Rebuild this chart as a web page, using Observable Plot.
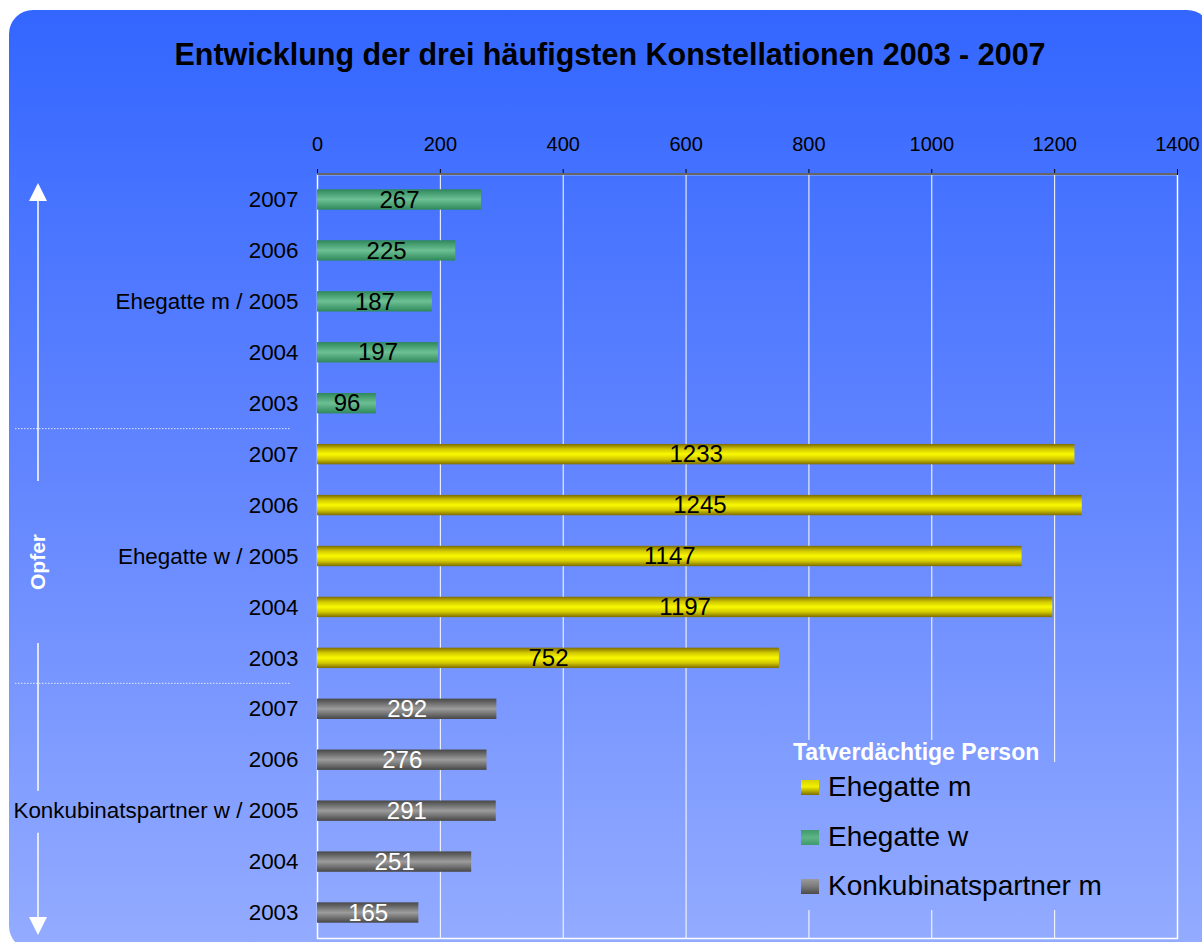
<!DOCTYPE html>
<html>
<head>
<meta charset="utf-8">
<script src="https://cdn.jsdelivr.net/npm/d3@7"></script>
<script src="https://cdn.jsdelivr.net/npm/@observablehq/plot@0.6"></script>
<style>
  html, body { margin: 0; padding: 0; background: #ffffff; }
  body { width: 1202px; height: 942px; overflow: hidden; font-family: "Liberation Sans", Arial, sans-serif; }
  #wrap { position: relative; width: 1202px; height: 942px; }
  .bgfix {
    background-image: linear-gradient(to bottom, #3366ff 0%, #6386ff 50%, #94acff 100%);
    background-attachment: fixed;
    background-size: 1202px 940px;
    background-position: 9px 10px;
    background-repeat: no-repeat;
  }
  #bg { position: absolute; left: 9px; top: 10px; width: 1202px; height: 940px; border-radius: 24px; }
  #title { position: absolute; left: 9px; top: 36px; width: 1202px; text-align: center; font-weight: bold; font-size: 30.5px; line-height: 36px; color: #000; }
  #chart { position: absolute; left: 0; top: 0; }
  #legTitle { position: absolute; left: 793px; top: 740px; font-weight: bold; font-size: 23px; line-height: 24px; color: #fff; }
  #legBox { position: absolute; left: 790px; top: 762px; width: 382px; height: 148px; }
  .legItem { position: absolute; left: 801px; height: 30px; display: flex; align-items: center; font-size: 28px; color: #000; }
  .legItem .sw { width: 18px; height: 15px; margin-right: 9px; }
</style>
</head>
<body>
<div id="wrap">
  <div id="bg" class="bgfix"></div>
  <div id="title"></div>
  <div id="chart"></div>
  <div id="legBox" class="bgfix"></div>
  <div id="legTitle" class="bgfix"></div>
  <div id="legend"></div>
</div>
<script>
// ---- data ----
const titleText = "Entwicklung der drei häufigsten Konstellationen 2003 - 2007";
const years = ["2007", "2006", "2005", "2004", "2003"];
const opferGroups = ["Ehegatte m", "Ehegatte w", "Konkubinatspartner w"];
const suspectOf = ["Ehegatte w", "Ehegatte m", "Konkubinatspartner m"];
const valuesOpferEhegatteM = [267, 225, 187, 197, 96];
const valuesOpferEhegatteW = [1233, 1245, 1147, 1197, 752];
const valuesOpferKonkubinatW = [292, 276, 291, 251, 165];
const xTicks = [0, 200, 400, 600, 800, 1000, 1200, 1400];
const legendTitle = "Tatverdächtige Person";
const legendItems = ["Ehegatte m", "Ehegatte w", "Konkubinatspartner m"];
const axisTitle = "Opfer";

// ---- styles ----
const gradIds = {"Ehegatte m": "gYellow", "Ehegatte w": "gGreen", "Konkubinatspartner m": "gGray"};
const labelColor = {"Ehegatte m": "#000", "Ehegatte w": "#000", "Konkubinatspartner m": "#fff"};
const gradStops = {
  gYellow: [[0, "#7d6c00"], [0.25, "#d2c800"], [0.5, "#fafa00"], [0.75, "#d2c800"], [1, "#7d6c00"]],
  gGreen: [[0, "#2e885a"], [0.5, "#6cc094"], [1, "#2e885a"]],
  gGray: [[0, "#474747"], [0.5, "#9c9c9c"], [1, "#474747"]]
};

const seriesValues = [valuesOpferEhegatteM, valuesOpferEhegatteW, valuesOpferKonkubinatW];
const rows = opferGroups.flatMap((o, i) => years.map((yr, j) => ({
  key: o + "|" + yr, opfer: o, year: yr, suspect: suspectOf[i], value: seriesValues[i][j]
})));
const keys = rows.map(d => d.key);
const labelOf = Object.fromEntries(rows.map(d => [d.key, d.year === "2005" ? `${d.opfer} / ${d.year}` : d.year]));

const W = 1202, H = 942, mTop = 174, mLeft = 317, mRight = 25, mBottom = 4;
const font = '"Liberation Sans", Arial, sans-serif';

const barMarks = legendItems.flatMap(s => {
  const sub = rows.filter(d => d.suspect === s);
  return [
    Plot.barX(sub, {x: "value", y: "key", fill: `url(#${gradIds[s]})`}),
    Plot.text(sub, {x: d => d.value / 2, y: "key", text: d => String(d.value), fill: labelColor[s], fontSize: 24})
  ];
});

const chart = Plot.plot({
  width: W, height: H,
  marginTop: mTop, marginLeft: mLeft, marginRight: mRight, marginBottom: mBottom,
  style: {background: "transparent", fontFamily: font, color: "#000", overflow: "visible"},
  x: {domain: [0, 1400], axis: null, label: null},
  y: {domain: keys, paddingInner: 0.6, paddingOuter: 0.3, round: false, axis: null, label: null},
  marks: [
    Plot.gridX(xTicks, {stroke: "#ffffff", strokeOpacity: 1, strokeWidth: 1}),
    Plot.frame({stroke: "#ffffff", strokeWidth: 1.5}),
    ...barMarks,
    Plot.axisX(xTicks, {anchor: "top", label: null, tickSize: 6, tickPadding: 18, fontSize: 20, stroke: "#000", tickFormat: d => String(d)}),
    Plot.axisY({anchor: "left", label: null, tickSize: 0, tickPadding: 19, fontSize: 22.4, tickFormat: k => labelOf[k]})
  ]
});
document.getElementById("chart").appendChild(chart);

// gradients
const svg = d3.select(chart);
const defs = svg.insert("defs", ":first-child");
for (const [id, stops] of Object.entries(gradStops)) {
  const g = defs.append("linearGradient").attr("id", id).attr("x1", 0).attr("y1", 0).attr("x2", 0).attr("y2", 1);
  for (const [o, c] of stops) g.append("stop").attr("offset", o).attr("stop-color", c);
}

// decorations tied to the same scales
const yBand = d3.scaleBand(keys, [mTop, H - mBottom]).paddingInner(0.6).paddingOuter(0.3);
const xLin = d3.scaleLinear([0, 1400], [mLeft, W - mRight]);
const deco = svg.append("g");
deco.append("line").attr("x1", xLin(0)).attr("x2", xLin(1400)).attr("y1", mTop).attr("y2", mTop)
  .attr("stroke", "#666").attr("stroke-width", 2);
const gap = (yBand.step() - yBand.bandwidth()) / 2;
[5, 10].forEach(i => {
  const yy = yBand(keys[i]) - gap;
  deco.append("line").attr("x1", 15).attr("x2", 290).attr("y1", yy).attr("y2", yy)
    .attr("stroke", "#fff").attr("stroke-width", 1).attr("stroke-dasharray", "1.5,1.5").attr("opacity", 0.8);
});
const ax = 38;
const yTop = mTop, yBot = H - mBottom, yMid = (yTop + yBot) / 2 + 6;
// label row of last group interrupts the down arrow
const kLab = yBand(keys[12]) + yBand.bandwidth() / 2;
deco.append("line").attr("x1", ax).attr("x2", ax).attr("y1", yTop + 26).attr("y2", yMid - 81).attr("stroke", "#fff").attr("stroke-width", 1.5);
deco.append("path").attr("d", `M${ax},${yTop + 9}L${ax - 9},${yTop + 27}L${ax + 9},${yTop + 27}Z`).attr("fill", "#fff");
deco.append("line").attr("x1", ax).attr("x2", ax).attr("y1", yMid + 81).attr("y2", kLab - 20).attr("stroke", "#fff").attr("stroke-width", 1.5);
deco.append("line").attr("x1", ax).attr("x2", ax).attr("y1", kLab + 22).attr("y2", yBot - 20).attr("stroke", "#fff").attr("stroke-width", 1.5);
deco.append("path").attr("d", `M${ax},${yBot - 3}L${ax - 9},${yBot - 21}L${ax + 9},${yBot - 21}Z`).attr("fill", "#fff");
deco.append("text").attr("transform", `translate(${ax + 7},${yMid}) rotate(-90)`)
  .attr("text-anchor", "middle").attr("fill", "#fff").attr("font-weight", "bold").attr("font-size", 21)
  .attr("font-family", font).text(axisTitle);

// title & legend
document.getElementById("title").textContent = titleText;
document.getElementById("legTitle").textContent = legendTitle;
const swatchCss = {
  "Ehegatte m": "linear-gradient(to bottom,#d8d000,#f2f200 45%,#7d6c00)",
  "Ehegatte w": "linear-gradient(to bottom,#3f9a6c,#5fb486 50%,#3f9a6c)",
  "Konkubinatspartner m": "linear-gradient(to bottom,#9a9a9a,#7a7a7a 50%,#4a4a4a)"
};
const legCenters = [787, 837, 886];
const leg = document.getElementById("legend");
legendItems.forEach((s, i) => {
  const it = document.createElement("div");
  it.className = "legItem";
  it.style.top = (legCenters[i] - 15) + "px";
  const sw = document.createElement("div");
  sw.className = "sw";
  sw.style.background = swatchCss[s];
  const tx = document.createElement("span");
  tx.textContent = s;
  it.appendChild(sw); it.appendChild(tx);
  leg.appendChild(it);
});
</script>
</body>
</html>
